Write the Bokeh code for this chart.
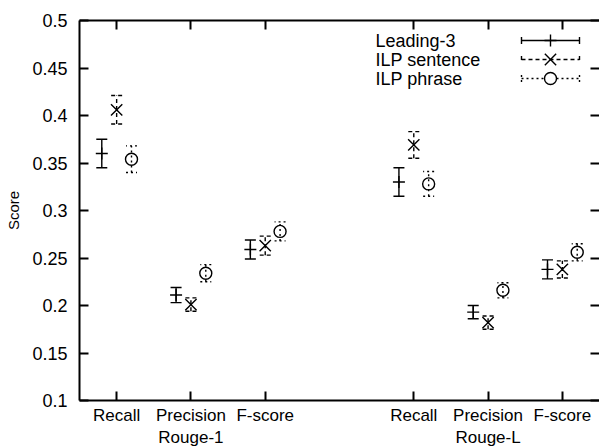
from bokeh.plotting import figure
from bokeh.models import (ColumnDataSource, Whisker, TeeHead, FixedTicker, LinearAxis,
                          Range1d, Label, CustomJSTickFormatter)
from bokeh.embed import file_html
from bokeh.resources import INLINE

# ---- data ----
metrics = ["Recall", "Precision", "F-score", "Recall", "Precision", "F-score"]
groups = ["Rouge-1", "Rouge-L"]
positions = [1, 2, 3, 5, 6, 7]
series_names = ["Leading-3", "ILP sentence", "ILP phrase"]

leading = [0.360, 0.211, 0.259, 0.330, 0.193, 0.238]
leading_err = [0.015, 0.008, 0.010, 0.015, 0.007, 0.010]
sentence = [0.406, 0.201, 0.263, 0.369, 0.182, 0.238]
sentence_err = [0.015, 0.007, 0.010, 0.014, 0.007, 0.009]
phrase = [0.354, 0.234, 0.278, 0.328, 0.216, 0.256]
phrase_err = [0.014, 0.009, 0.010, 0.013, 0.008, 0.009]

y_ticks = [0.1, 0.15, 0.2, 0.25, 0.3, 0.35, 0.4, 0.45, 0.5]

# ---- styles / layout ----
FONT = "Liberation Sans"
FW, FH = 520, 380
offsets = [-0.2, 0.0, 0.2]
markers = ["cross", "x", "circle"]
msizes = [12, 16, 12]
dashes = ["solid", "4 3", "2 3"]

p = figure(frame_width=FW, frame_height=FH, x_range=Range1d(0.5, 7.5), y_range=Range1d(0.1, 0.5),
           output_backend="svg", toolbar_location=None,
           min_border_left=79, min_border_right=0, min_border_top=20, min_border_bottom=46)
p.grid.visible = False
p.outline_line_color = None
p.background_fill_color = "white"
p.border_fill_color = "white"

# bottom axis
xa = p.xaxis[0]
xa.ticker = FixedTicker(ticks=positions)
labels = {}
for i, (pos, m) in enumerate(zip(positions, metrics)):
    if i % 3 == 1:
        labels[pos] = m + "\n" + groups[i // 3]
    else:
        labels[pos] = m
xa.major_label_overrides = labels
# left axis
ya = p.yaxis[0]
ya.ticker = FixedTicker(ticks=y_ticks)
ya.formatter = CustomJSTickFormatter(code="return Number(tick.toFixed(2)).toString();")
ya.axis_label = "Score"
ya.axis_label_text_font = FONT
ya.axis_label_text_font_size = "15px"
ya.axis_label_text_font_style = "normal"
ya.axis_label_text_color = "black"
ya.axis_label_standoff = 7

for ax in (xa, ya):
    ax.major_tick_in = 9
    ax.major_tick_out = 0
    ax.minor_tick_line_color = None
    ax.axis_line_width = 2
    ax.major_tick_line_width = 2
    ax.major_label_text_font = FONT
    ax.major_label_text_color = "black"
ya.major_label_text_font_size = "18px"
xa.major_label_text_font_size = "17px"
xa.major_label_standoff = 5
ya.major_label_standoff = 12

# mirrored axes (ticks only)
top = LinearAxis(ticker=FixedTicker(ticks=positions), axis_line_width=2)
right = LinearAxis(ticker=FixedTicker(ticks=y_ticks), axis_line_color=None)
for ax in (top, right):
    ax.major_tick_in = 9
    ax.major_tick_out = 0
    ax.major_tick_line_width = 2
    ax.minor_tick_line_color = None
    ax.major_label_text_font_size = "0px"
    ax.major_label_standoff = 0
    ax.major_label_text_alpha = 0
p.add_layout(top, "above")
p.add_layout(right, "right")

# ---- data marks ----
for vals, errs, off, mk, ms, dash in zip([leading, sentence, phrase],
                                          [leading_err, sentence_err, phrase_err],
                                          offsets, markers, msizes, dashes):
    xs = [pos + off for pos in positions]
    src = ColumnDataSource(dict(x=xs, y=vals,
                                lo=[v - e for v, e in zip(vals, errs)],
                                hi=[v + e for v, e in zip(vals, errs)]))
    w = Whisker(source=src, base="x", lower="lo", upper="hi", dimension="height",
                line_color="black", line_width=1.4, line_dash=dash,
                upper_head=TeeHead(size=11, line_width=1.4, line_color="black", line_dash=dash),
                lower_head=TeeHead(size=11, line_width=1.4, line_color="black", line_dash=dash))
    p.add_layout(w)
    p.scatter("x", "y", source=src, marker=mk, size=ms, line_color="black", line_width=1.4,
              fill_color=None)

# ---- legend (pixel coordinates inside the frame, origin top-left) ----
p.extra_x_ranges = {"px": Range1d(0, FW)}
p.extra_y_ranges = {"py": Range1d(FH, 0)}
rows = [20, 39, 58]
TX, SX0, SX1, CAP = 296, 442, 500, 3.5
for name, row, mk, ms, dash in zip(series_names, rows, markers, msizes, dashes):
    p.add_layout(Label(x=TX, y=row, x_range_name="px", y_range_name="py", text=name,
                       text_font=FONT, text_font_size="18px", text_baseline="middle",
                       text_color="black"))
    p.segment(x0=[SX0], y0=[row], x1=[SX1], y1=[row], x_range_name="px", y_range_name="py",
              line_color="black", line_width=1.4, line_dash=dash)
    p.segment(x0=[SX0, SX1], y0=[row - CAP] * 2, x1=[SX0, SX1], y1=[row + CAP] * 2,
              x_range_name="px", y_range_name="py", line_color="black", line_width=1.4,
              line_dash=dash)
    p.scatter(x=[(SX0 + SX1) / 2], y=[row], x_range_name="px", y_range_name="py", marker=mk,
              size=ms, line_color="black", line_width=1.4, fill_color="white")

open("out.html", "w").write(file_html(p, INLINE))
